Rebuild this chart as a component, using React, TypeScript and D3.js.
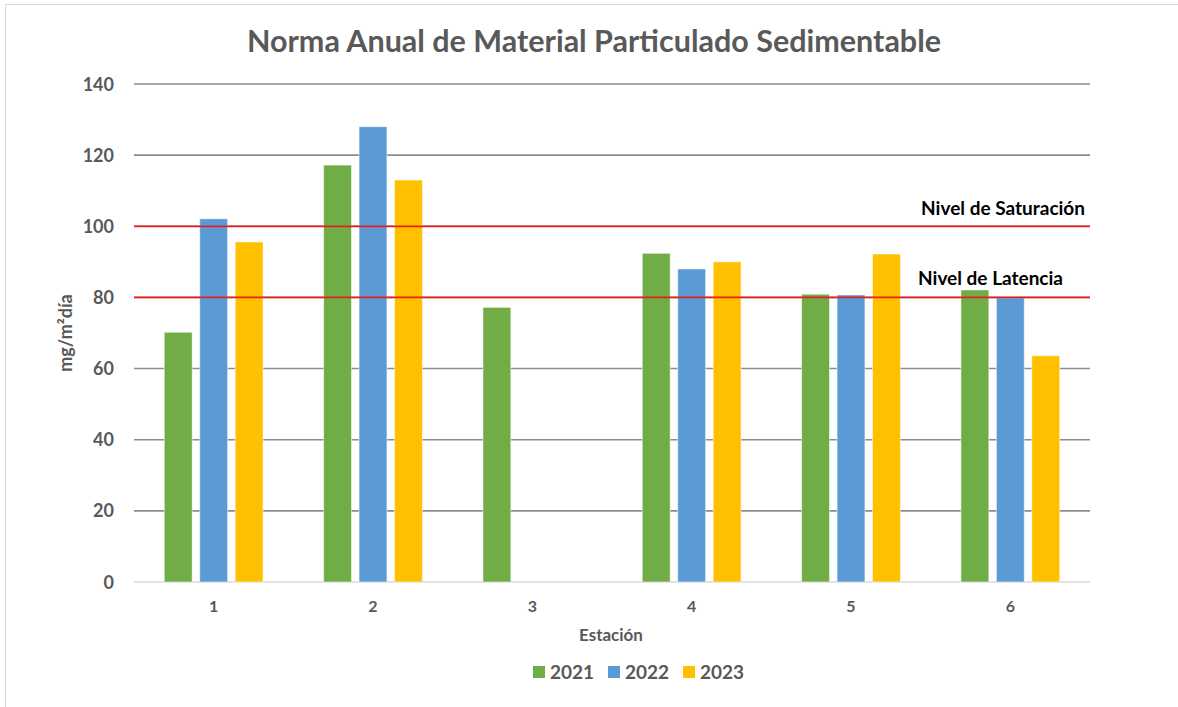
import React from "react";
import * as d3 from "d3";

const stations = ["1", "2", "3", "4", "5", "6"];
const years = ["2021", "2022", "2023"];
const values2021 = [70.2, 117.2, 77.2, 92.4, 80.9, 82.1];
const values2022 = [102.1, 128.0, null, 88.0, 80.7, 79.9];
const values2023 = [95.6, 113.0, null, 90.0, 92.2, 63.6];
const yTicks = [0, 20, 40, 60, 80, 100, 120, 140];
const refLines = [
  { value: 100, label: "Nivel de Saturación" },
  { value: 80, label: "Nivel de Latencia" },
];
const colors = ["#70AD47", "#5B9BD5", "#FFC000"];

const W = 1178;
const H = 707;
const FONT = "Lato, 'Open Sans', sans-serif";

export default function App() {
  const left = 134;
  const right = 1090;
  const top = 84;
  const bottom = 582;
  const x = d3.scaleBand<string>().domain(stations).range([left, right]).padding(0);
  const y = d3.scaleLinear().domain([0, 140]).range([bottom, top]);
  const series = [values2021, values2022, values2023];
  const bw = x.bandwidth();
  const step = bw * 0.2225;
  const barW = bw * 0.175;

  return (
    <svg width={W} height={H} style={{ position: "absolute", left: 0, top: 0, background: "#fff" }}>
      <rect x={5.5} y={4.5} width={W} height={H} fill="#fff" stroke="#d9d9d9" strokeWidth={1} />
      <text x={594} y={52} textAnchor="middle" fontFamily={FONT} fontWeight={700} fontSize={30.5} fill="#595959">
        Norma Anual de Material Particulado Sedimentable
      </text>
      {yTicks.map((t) => (
        <g key={t}>
          {t > 0 && (
            <line x1={left} x2={right} y1={y(t)} y2={y(t)} stroke="#8c8c8c" strokeWidth={1.6} />
          )}
          <text x={114} y={y(t) + 6.5} textAnchor="end" fontFamily={FONT} fontWeight={700} fontSize={18} fill="#595959">
            {t}
          </text>
        </g>
      ))}
      <line x1={left} x2={right} y1={y(0)} y2={y(0)} stroke="#d9d9d9" strokeWidth={1.5} />
      {series.map((vals, si) =>
        vals.map((v, i) =>
          v == null ? null : (
            <rect
              key={si + "-" + i}
              x={(x(stations[i]) as number) + bw / 2 + (si - 1) * step - barW / 2}
              y={y(v)}
              width={barW}
              height={y(0) - y(v)}
              fill={colors[si]}
              stroke="#ffffff"
              strokeOpacity={0.5}
              strokeWidth={1}
            />
          )
        )
      )}
      {refLines.map((r) => (
        <line key={r.value} x1={left} x2={right} y1={y(r.value)} y2={y(r.value)} stroke="#E3201F" strokeWidth={1.8} />
      ))}
      <text x={1085} y={215} textAnchor="end" fontFamily={FONT} fontWeight={700} fontSize={19} fill="#000">
        {refLines[0].label}
      </text>
      <text x={1063} y={285} textAnchor="end" fontFamily={FONT} fontWeight={700} fontSize={19} fill="#000">
        {refLines[1].label}
      </text>
      {stations.map((s) => (
        <text key={s} x={(x(s) as number) + bw / 2} y={612} textAnchor="middle" fontFamily={FONT} fontWeight={700} fontSize={16} fill="#595959">
          {s}
        </text>
      ))}
      <text x={611} y={641} textAnchor="middle" fontFamily={FONT} fontWeight={700} fontSize={17} fill="#595959">
        Estación
      </text>
      <text transform={`translate(72,333) rotate(-90)`} textAnchor="middle" fontFamily={FONT} fontWeight={700} fontSize={18} fill="#595959">
        mg/m²día
      </text>
      {years.map((yr, i) => (
        <g key={yr} transform={`translate(${533 + i * 75},0)`}>
          <rect x={0} y={666} width={12} height={12} fill={colors[i]} />
          <text x={17} y={679} fontFamily={FONT} fontWeight={700} fontSize={19} fill="#595959">
            {yr}
          </text>
        </g>
      ))}
    </svg>
  );
}
